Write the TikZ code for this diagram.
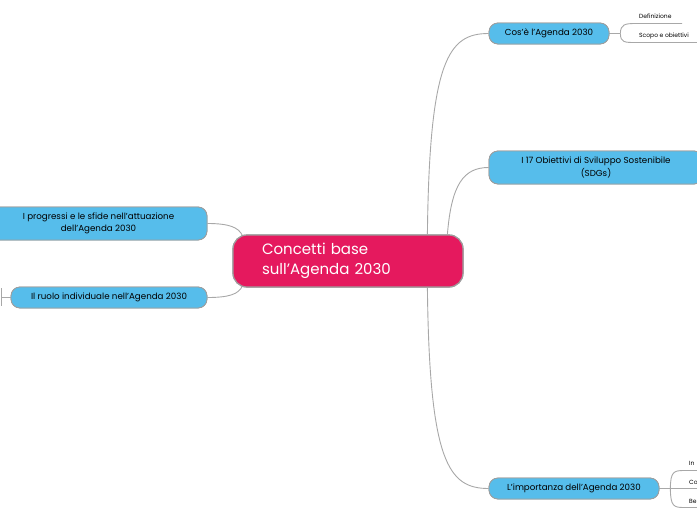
\documentclass[tikz,border=0pt]{standalone}
\usepackage{fontspec}
\setmainfont{Poppins}
\definecolor{topicblue}{HTML}{56BDEB}
\definecolor{centralpink}{HTML}{E5195E}
\definecolor{edgegray}{HTML}{A8A8A8}
\definecolor{bordergray}{HTML}{9E9E9E}
\tikzset{
  central/.style={draw=bordergray, line width=1.2pt, fill=centralpink, rounded corners=14pt,
    minimum width=230pt, minimum height=52pt, text width=172pt, align=left, inner xsep=29pt,
    text=white, font=\fontsize{15}{20.5}\selectfont},
  topic/.style={draw=bordergray, line width=0.8pt, fill=topicblue, rounded corners=9pt,
    inner sep=0pt, align=center, font=\fontsize{8.7}{12.5}\selectfont},
  conn/.style={draw=edgegray, line width=0.9pt},
  sub/.style={anchor=west, inner sep=0pt, font=\fontsize{6}{7}\selectfont},
}
\begin{document}
\begin{tikzpicture}[x=1pt,y=-1pt]
\useasboundingbox (0,0) rectangle (697,520);
\node[central] (c) at (348,261) {Concetti base\\sull’Agenda 2030};
\node[topic, minimum width=120pt, minimum height=21pt] (t1) at (549,33.5) {Cos’è l’Agenda 2030};
\node[topic, minimum width=214pt, minimum height=33pt] (t2) at (596,167.5) {I 17 Obiettivi di Sviluppo Sostenibile\\(SDGs)};
\node[topic, minimum width=170pt, minimum height=21pt] (t3) at (574,488.5) {L’importanza dell’Agenda 2030};
\node[topic, minimum width=217pt, minimum height=33pt] (t4) at (98.5,223.5) {I progressi e le sfide nell’attuazione\\dell’Agenda 2030};
\node[topic, minimum width=196pt, minimum height=21pt] (t5) at (109,297.5) {Il ruolo individuale nell’Agenda 2030};
\coordinate (ct1) at ([xshift=195pt]c.north west);
\coordinate (ct2) at ([xshift=215pt]c.north west);
\coordinate (cb3) at ([xshift=195pt]c.south west);
\coordinate (cl4) at ([xshift=10pt,yshift=-1pt]c.north west);
\coordinate (cl5) at ([xshift=10pt,yshift=1.5pt]c.south west);
\draw[conn] (ct1) .. controls ++(2,-175) and ++(-40,0) .. (t1.west);
\draw[conn] (ct2) .. controls ++(4,-50) and ++(-25,0) .. (t2.west);
\draw[conn] (cb3) .. controls ++(2,175) and ++(-40,0) .. (t3.west);
\draw[conn] (t4.east) .. controls ++(22,0) and ++(-4,-8) .. (cl4);
\draw[conn] (t5.east) .. controls ++(22,0) and ++(-4,8) .. (cl5);
% subtopics of t1
\coordinate (b1) at ([xshift=11pt]t1.east);
\draw[conn] (t1.east) -- (b1);
\coordinate (d1) at (635,23.5);
\coordinate (d1e) at (682,23.5);
\coordinate (d2) at (635,42.5);
\coordinate (d2e) at (700,42.5);
\draw[conn] (b1) .. controls ++(0,-9) and ++(-10,0) .. (d1) -- (d1e);
\draw[conn] (b1) .. controls ++(0,9) and ++(-10,0) .. (d2) -- (d2e);
\node[sub] (s1) at (639,16.5) {Definizione};
\node[sub] (s2) at (639,35.5) {Scopo e obiettivi};
% subtopics of t3
\coordinate (b3) at ([xshift=11pt]t3.east);
\draw[conn] (t3.east) -- (b3);
\coordinate (e1) at (684,470.5);
\coordinate (e3) at (684,507.5);
\draw[conn] (b3) .. controls ++(0,-17) and ++(-10,0) .. (e1) -- (700,470.5);
\draw[conn] (b3) -- (700,488.5);
\draw[conn] (b3) .. controls ++(0,18) and ++(-10,0) .. (e3) -- (700,507.5);
\node[sub] (s3) at (689,463.5) {In};
\node[sub] (s4) at (689,482.5) {Co};
\node[sub] (s5) at (689,501) {Be};
% subtopic stub of t5
\coordinate (f1) at (1.2,297.5);
\draw[conn] (t5.west) -- (f1);
\draw[conn] (1.2,288) -- (1.2,306);
% redraw nodes on top of connectors
\node[central] at (c) {Concetti base\\sull’Agenda 2030};
\node[topic, minimum width=120pt, minimum height=21pt] at (t1) {Cos’è l’Agenda 2030};
\node[topic, minimum width=214pt, minimum height=33pt] at (t2) {I 17 Obiettivi di Sviluppo Sostenibile\\(SDGs)};
\node[topic, minimum width=170pt, minimum height=21pt] at (t3) {L’importanza dell’Agenda 2030};
\node[topic, minimum width=217pt, minimum height=33pt] at (t4) {I progressi e le sfide nell’attuazione\\dell’Agenda 2030};
\node[topic, minimum width=196pt, minimum height=21pt] at (t5) {Il ruolo individuale nell’Agenda 2030};
\end{tikzpicture}
\end{document}
